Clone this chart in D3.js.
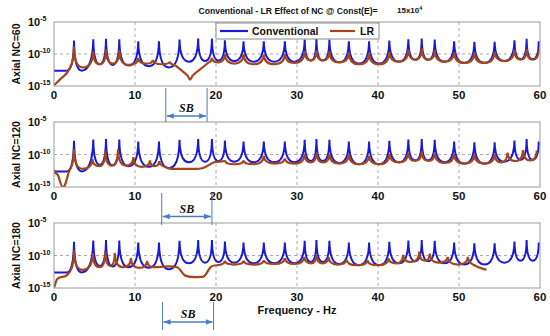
<!DOCTYPE html>
<html><head><meta charset="utf-8">
<script src="https://cdn.jsdelivr.net/npm/d3@7"></script>
<style>body{margin:0;background:#fff}svg{display:block;font-family:Arial,"Liberation Sans",sans-serif}</style>
</head><body><svg id="c" width="550" height="336"></svg>
<script>
// ---------- data (log10 of axial response) ----------
const xTicks = [0, 10, 20, 30, 40, 50, 60];
const yTickExps = [-5, -10, -15];
const panelLabels = ["Axial NC=60", "Axial NC=120", "Axial NC=180"];
const seriesNames = ["Conventional", "LR"];
const sbStart = [13.8, 13.3, 13.4];
const sbEnd = [18.9, 19.5, 19.7];

const conventional = [
[0,-12.6],[1.6,-12.6],[2.47,-7.9],[3.4,-12.6],[4.85,-7.7],[5.65,-11.6],[6.42,-7.6],[7.25,-11.7],[8.06,-7.7],[9.2,-11.8],
[10.4,-8.0],[11.7,-11.9],[12.96,-8.0],[14.2,-12.1],[15.5,-7.75],[16.65,-11.2],[17.8,-7.6],[18.65,-11.1],[19.5,-7.6],[20.3,-11.0],
[21.1,-7.85],[22.25,-11.1],[23.4,-8.0],[24.65,-11.2],[25.9,-8.0],[27.2,-11.2],[28.5,-8.0],[29.7,-11.2],[30.95,-7.75],[31.7,-11.0],
[32.4,-7.6],[33.2,-11.0],[34.0,-7.75],[35.2,-11.3],[36.4,-8.0],[37.65,-11.5],[38.9,-8.0],[40.15,-11.5],[41.4,-7.9],[42.6,-11.2],
[43.75,-7.7],[44.6,-10.9],[45.4,-7.6],[46.2,-10.9],[47.0,-7.75],[48.2,-11.2],[49.4,-8.0],[50.65,-11.4],[51.9,-8.1],[53.15,-11.4],
[54.4,-8.1],[55.6,-11.1],[56.85,-7.85],[57.6,-10.8],[58.35,-7.6],[59.1,-10.8],[59.85,-8.0]
];

const lr60 = [
[0,-14.9],[0.8,-13.9],[1.9,-12.3],[2.47,-8.8],[3.5,-12.1],[4.85,-9.6],[5.65,-11.6],[6.42,-9.3],[7.25,-11.5],[8.06,-9.4],
[9.2,-11.7],[10.4,-10.6],[11.4,-11.5],[12.2,-10.9],[13.3,-11.6],[14.3,-11.2],[15.1,-11.9],[16.5,-13.4],[16.8,-14.0],[17.1,-13.4],
[19.0,-11.4],[19.5,-10.6],
[20.3,-11.3],[21.1,-10.0],[22.25,-11.5],[23.4,-10.0],[24.65,-11.6],[25.9,-10.1],[27.2,-11.6],[28.5,-10.0],[29.7,-11.4],[30.95,-9.5],
[31.7,-11.0],[32.4,-9.4],[33.2,-11.0],[34.0,-9.6],[35.2,-11.3],[36.4,-9.7],[37.65,-11.6],[38.9,-9.9],[40.15,-11.6],[41.4,-9.7],
[42.6,-11.2],[43.75,-9.3],[44.6,-10.9],[45.4,-9.1],[46.2,-10.9],[47.0,-9.4],[48.2,-11.2],[49.4,-9.7],[50.65,-11.4],[51.9,-9.7],
[53.15,-11.4],[54.4,-9.6],[55.6,-11.1],[56.85,-9.3],[57.6,-10.9],[58.35,-9.2],[59.1,-10.9],[59.85,-9.3]
];

const lr120 = [
[0,-12.3],[0.5,-13.2],[1.1,-15.0],[1.8,-12.8],[2.47,-9.2],[3.5,-12.2],[4.75,-10.7],[5.6,-11.8],[6.35,-9.4],[7.1,-11.7],
[7.9,-9.2],[8.9,-11.7],[9.8,-10.4],[10.8,-11.9],[11.85,-10.9],[12.4,-11.8],[13.0,-11.0],[13.7,-11.9],[14.5,-12.2],[17.8,-12.2],
[19.8,-11.2],[21.1,-10.9],[22.25,-11.5],[23.4,-10.9],[24.65,-11.5],[25.9,-10.2],[27.2,-11.4],[28.5,-10.6],[29.7,-11.4],[30.95,-9.9],
[31.7,-11.2],[32.4,-9.7],[33.2,-11.2],[34.0,-9.9],[35.2,-11.4],[36.4,-9.9],[37.65,-11.5],[38.9,-10.2],[40.15,-11.5],[41.4,-9.9],
[42.6,-11.2],[43.75,-9.7],[44.6,-11.0],[45.4,-9.5],[46.2,-11.0],[47.0,-9.7],[48.2,-11.3],[49.4,-9.9],[50.65,-11.4],[51.9,-9.9],
[53.15,-11.4],[54.4,-9.9],[55.2,-11.2],[56.0,-9.7],[57.0,-11.0],[57.9,-9.3],[58.8,-10.9],[59.6,-9.4]
];

const lr180 = [
[0,-15.0],[0.4,-13.6],[1.9,-12.6],[2.47,-9.2],[3.5,-12.2],[4.8,-9.6],[5.6,-11.8],[6.35,-9.4],[6.95,-11.6],[7.5,-9.6],
[8.5,-11.8],[9.5,-10.4],[10.5,-11.9],[11.5,-10.8],[12.3,-11.8],[15.2,-11.8],[16.2,-13.1],[18.3,-13.3],[19.4,-11.7],[20.6,-11.4],
[21.1,-10.8],[22.25,-11.4],[23.4,-10.8],[24.65,-11.4],[25.9,-10.7],[27.2,-11.3],[28.5,-10.4],[29.7,-11.3],[30.9,-10.2],[31.7,-11.2],
[32.4,-9.9],[33.2,-11.2],[33.9,-10.2],[35.0,-11.4],[36.1,-10.6],[37.4,-11.5],[38.7,-10.7],[40.0,-11.5],[41.3,-10.4],[42.3,-11.2],
[43.1,-9.9],[44.1,-11.0],[45.1,-9.4],[45.8,-10.8],[46.4,-9.7],[47.5,-11.1],[48.6,-10.2],[49.9,-11.4],[51.1,-10.2],[51.9,-11.5],
[53.4,-12.2]
];
const lrSeries = [lr60, lr120, lr180];

// ---------- drawing ----------
const svg = d3.select("#c");
const blue = "#1a1ad6", brown = "#a3461a", sbColor = "#4a7cc6";
const panels = [{top: 22, bottom: 86}, {top: 122, bottom: 187}, {top: 223, bottom: 288}];
const x = d3.scaleLinear().domain([0, 60]).range([54, 540]);

function resonanceCurve(context) {
  let pts = [];
  return {
    areaStart() {}, areaEnd() {},
    lineStart() { pts = []; },
    point(px, py) { pts.push([+px, +py]); },
    lineEnd() {
      const n = pts.length;
      if (!n) return;
      context.moveTo(pts[0][0], pts[0][1]);
      if (n === 1) return;
      const kind = pts.map((p, i) => {
        const a = pts[i - 1], b = pts[i + 1];
        const ny = [a, b].filter(Boolean).map(q => q[1]);
        if (ny.every(v => p[1] < v)) return "peak";
        if (a && b && ny.every(v => p[1] >= v)) return "valley";
        return "slope";
      });
      const ctrl = (i, j) => {
        const p = pts[i], q = pts[j];
        const dx = q[0] - p[0];
        if (kind[i] === "peak") return [p[0] + 0.04 * dx, p[1] + 0.8 * (q[1] - p[1])];
        if (kind[i] === "valley") return [p[0] + 0.45 * dx, p[1]];
        const a = pts[Math.max(0, i - 1)], b = pts[Math.min(n - 1, i + 1)];
        const m = (b[1] - a[1]) / (b[0] - a[0]);
        return [p[0] + dx / 3, p[1] + m * dx / 3];
      };
      for (let i = 0; i < n - 1; i++) {
        const c1 = ctrl(i, i + 1), c2 = ctrl(i + 1, i);
        context.bezierCurveTo(c1[0], c1[1], c2[0], c2[1], pts[i + 1][0], pts[i + 1][1]);
      }
    }
  };
}

const defs = svg.append("defs");
["s", "e"].forEach(k => {
  defs.append("marker").attr("id", "arr" + k).attr("viewBox", "0 0 10 10")
    .attr("refX", k === "e" ? 10 : 0).attr("refY", 5).attr("markerWidth", 7).attr("markerHeight", 7)
    .attr("markerUnits", "userSpaceOnUse").attr("orient", "auto")
    .append("path").attr("d", k === "e" ? "M0,1L10,5L0,9Z" : "M10,1L0,5L10,9Z").attr("fill", sbColor);
});

panels.forEach((pn, pi) => {
  const y = d3.scaleLog().domain([1e-15, 1e-5]).range([pn.bottom, pn.top]);
  const g = svg.append("g");
  defs.append("clipPath").attr("id", "clip" + pi).append("rect")
    .attr("x", x(0)).attr("y", pn.top).attr("width", x(60) - x(0)).attr("height", pn.bottom - pn.top);

  g.append("rect").attr("x", x(0)).attr("y", pn.top).attr("width", x(60) - x(0)).attr("height", pn.bottom - pn.top)
    .attr("fill", "#fff");
  g.selectAll(".vg").data(xTicks.slice(1, -1)).join("line")
    .attr("x1", d => x(d)).attr("x2", d => x(d)).attr("y1", pn.top).attr("y2", pn.bottom)
    .attr("stroke", "#a8a8a8").attr("stroke-dasharray", "3,3").attr("stroke-width", 1);
  g.selectAll(".hg").data(yTickExps.slice(1, -1)).join("line")
    .attr("x1", x(0)).attr("x2", x(60)).attr("y1", d => y(Math.pow(10, d))).attr("y2", d => y(Math.pow(10, d)))
    .attr("stroke", "#a8a8a8").attr("stroke-dasharray", "3,3").attr("stroke-width", 1);

  const line = d3.line().x(d => x(d[0])).y(d => y(Math.pow(10, d[1]))).curve(resonanceCurve);
  const lines = g.append("g").attr("clip-path", `url(#clip${pi})`);
  lines.append("path").attr("d", line(conventional)).attr("fill", "none").attr("stroke", blue).attr("stroke-width", 2);
  lines.append("path").attr("d", line(lrSeries[pi])).attr("fill", "none").attr("stroke", brown).attr("stroke-width", 2.2);

  g.append("rect").attr("x", x(0)).attr("y", pn.top).attr("width", x(60) - x(0)).attr("height", pn.bottom - pn.top)
    .attr("fill", "none").attr("stroke", "#9a9a9a").attr("stroke-width", 1);

  yTickExps.forEach(e => {
    const t = g.append("text").attr("x", 28).attr("y", y(Math.pow(10, e)) + 4)
      .attr("font-size", 11).attr("font-weight", "bold").attr("fill", "#111");
    t.append("tspan").text("10");
    t.append("tspan").attr("dy", -5).attr("font-size", 7).text(String(e));
  });
  g.selectAll(".xl").data(xTicks).join("text")
    .attr("x", d => x(d)).attr("y", pn.bottom + 13).attr("text-anchor", "middle")
    .attr("font-size", 11.5).attr("font-weight", "bold").attr("fill", "#111").text(d => d);
  g.append("text").attr("transform", `translate(20,${(pn.top + pn.bottom) / 2}) rotate(-90)`)
    .attr("text-anchor", "middle").attr("font-size", 10.5).attr("font-weight", "bold").attr("fill", "#111")
    .text(panelLabels[pi]);
});

// SB annotations
const sbLayout = [{y0: 88, y1: 122, ty: 112, ay: 116}, {y0: 193, y1: 225, ty: 213, ay: 216.5}, {y0: 302, y1: 330, ty: 318, ay: 322}];
sbLayout.forEach((s, i) => {
  const g = svg.append("g");
  [sbStart[i], sbEnd[i]].forEach(f => g.append("line").attr("x1", x(f)).attr("x2", x(f))
    .attr("y1", s.y0).attr("y2", s.y1).attr("stroke", sbColor).attr("stroke-width", 1));
  g.append("line").attr("x1", x(sbStart[i]) + 1).attr("x2", x(sbEnd[i]) - 1).attr("y1", s.ay).attr("y2", s.ay)
    .attr("stroke", sbColor).attr("stroke-width", 1.6)
    .attr("marker-start", "url(#arrs)").attr("marker-end", "url(#arre)");
  g.append("text").attr("x", (x(sbStart[i]) + x(sbEnd[i])) / 2).attr("y", s.ty).attr("text-anchor", "middle")
    .attr("font-family", "'Liberation Serif','Times New Roman',serif").attr("font-style", "italic")
    .attr("font-weight", "bold").attr("font-size", 12).attr("fill", "#111").text("SB");
});

// title
svg.append("text").attr("x", 288).attr("y", 14).attr("text-anchor", "middle")
  .attr("font-size", 8.6).attr("font-weight", "bold").attr("fill", "#111")
  .text("Conventional - LR Effect of NC @ Const(E)=");
const t2 = svg.append("text").attr("x", 397).attr("y", 13).attr("font-size", 8).attr("font-weight", "bold").attr("fill", "#111");
t2.append("tspan").text("15x10");
t2.append("tspan").attr("dy", -3).attr("font-size", 5.5).text("4");

// legend
const lg = svg.append("g");
lg.append("rect").attr("x", 216).attr("y", 23).attr("width", 163).attr("height", 16)
  .attr("fill", "#fff").attr("stroke", "#8a8a8a").attr("stroke-width", 1);
[[220, 248, 252, blue], [330, 355, 360, brown]].forEach((d, i) => {
  lg.append("line").attr("x1", d[0]).attr("x2", d[1]).attr("y1", 31).attr("y2", 31).attr("stroke", d[3]).attr("stroke-width", 2.2);
  lg.append("text").attr("x", d[2]).attr("y", 35).attr("font-size", 10.5).attr("font-weight", "bold").attr("fill", "#111").text(seriesNames[i]);
});

// x axis title
svg.append("text").attr("x", 297).attr("y", 314).attr("text-anchor", "middle")
  .attr("font-size", 11).attr("font-weight", "bold").attr("fill", "#111").text("Frequency - Hz");
</script></body></html>
